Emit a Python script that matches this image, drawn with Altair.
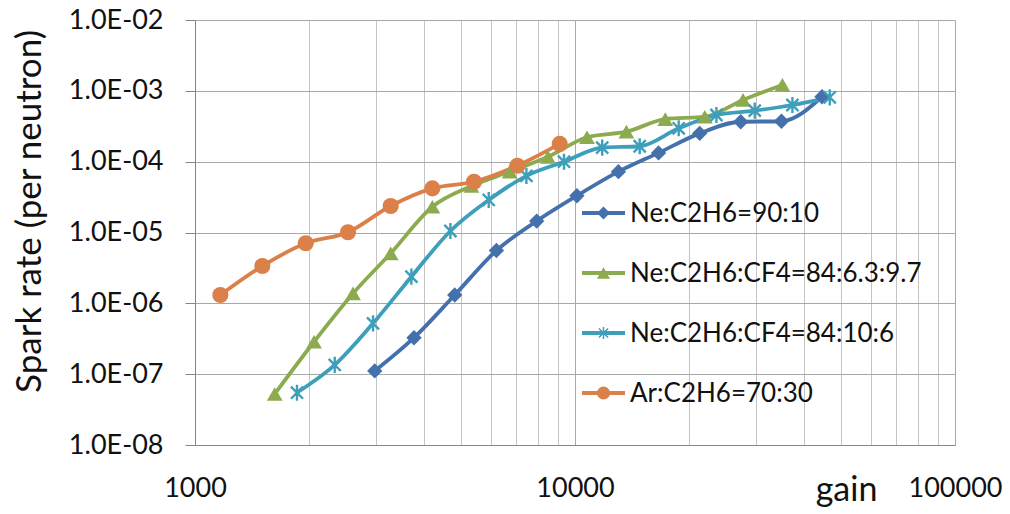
import altair as alt
import pandas as pd

# ---- data ----
series_names = ["Ne:C2H6=90:10", "Ne:C2H6:CF4=84:6.3:9.7", "Ne:C2H6:CF4=84:10:6", "Ar:C2H6=70:30"]
series_colors = ["#4470AC", "#8CAB4F", "#3E9FBA", "#DA8048"]

blue_gain = [2972, 3770, 4825, 6212, 7929, 10116, 13010, 16590, 21290, 27300, 34940, 44670]
blue_rate = [1.11e-7, 3.27e-7, 1.31e-6, 5.57e-6, 1.45e-5, 3.30e-5, 7.22e-5, 1.33e-4, 2.51e-4, 3.66e-4, 3.72e-4, 8.26e-4]

green_gain = [1621, 2057, 2605, 3273, 4214, 5339, 6733, 8490, 10755, 13655, 17280, 21950, 27680, 35140]
green_rate = [5.25e-8, 2.87e-7, 1.38e-6, 5.08e-6, 2.31e-5, 4.53e-5, 7.22e-5, 1.17e-4, 2.21e-4, 2.65e-4, 3.98e-4, 4.31e-4, 7.43e-4, 1.21e-3]

teal_gain = [1855, 2332, 2941, 3711, 4700, 5929, 7450, 9356, 11792, 14800, 18745, 23560, 29715, 37340, 46820]
teal_rate = [5.47e-8, 1.35e-7, 5.22e-7, 2.38e-6, 1.05e-5, 2.88e-5, 6.31e-5, 9.98e-5, 1.58e-4, 1.65e-4, 2.96e-4, 4.56e-4, 5.25e-4, 6.31e-4, 8.10e-4]

orange_gain = [1166, 1504, 1956, 2527, 3273, 4214, 5423, 7053, 9115]
orange_rate = [1.31e-6, 3.36e-6, 7.04e-6, 1.01e-5, 2.37e-5, 4.20e-5, 5.21e-5, 8.77e-5, 1.78e-4]

x_tick_values = [1000, 2000, 3000, 4000, 5000, 6000, 7000, 8000, 9000,
                 10000, 20000, 30000, 40000, 50000, 60000, 70000, 80000, 90000, 100000]
y_tick_values = [1e-8, 1e-7, 1e-6, 1e-5, 1e-4, 1e-3, 1e-2]

# ---- tables ----
rows = []
for name, g, r in zip(series_names,
                      [blue_gain, green_gain, teal_gain, orange_gain],
                      [blue_rate, green_rate, teal_rate, orange_rate]):
    for i, (gg, rr) in enumerate(zip(g, r)):
        rows.append({"series": name, "gain": gg, "rate": rr, "idx": i})
df = pd.DataFrame(rows)
legend_df = pd.DataFrame({"series": series_names, "k": list(range(len(series_names)))})

asterisk = "M0,-1V1M-0.75,-0.75L0.75,0.75M-0.75,0.75L0.75,-0.75"
marker_shapes = ["diamond", "triangle-up", asterisk, "circle"]
marker_filled = [True, True, False, True]
marker_sizes = [235, 250, 260, 260]

xscale = alt.Scale(type="log", domain=[1000, 100000], nice=False)
yscale = alt.Scale(type="log", domain=[1e-8, 1e-2], nice=False)

x_axis = alt.Axis(
    values=x_tick_values,
    labelExpr="(datum.value == 1000 || datum.value == 10000 || datum.value == 100000) ? format(datum.value, 'd') : ''",
    ticks=False, tickSize=0, labelPadding=30, labelFlush=False, labelOverlap=False,
    labelFontSize=27, labelColor="#111111",
    grid=True,
    gridColor={"condition": {"test": "datum.value == 1000 || datum.value == 10000 || datum.value == 100000", "value": "#A8A8A8"}, "value": "#C4C4C4"},
    gridWidth=1,
    domainColor="#868686", domainWidth=1,
    title="gain", titleFontSize=34, titleFontWeight="normal", titleColor="#111111",
    titleX=651, titleY=55, titleAlign="center", titleBaseline="alphabetic",
)
y_axis = alt.Axis(
    values=y_tick_values,
    labelExpr="'1.0E-' + (round(-log(datum.value)/LN10) < 10 ? '0' : '') + round(-log(datum.value)/LN10)",
    ticks=True, tickSize=10, tickColor="#868686", labelPadding=22, labelOverlap=False,
    labelFontSize=27, labelColor="#111111",
    grid=True, gridColor="#A8A8A8", gridWidth=1,
    domainColor="#868686", domainWidth=1,
    title="Spark rate (per neutron)", titleFontSize=35, titleFontWeight="normal", titleColor="#111111",
    titleX=-166, titleY=191, titleAlign="center", titleBaseline="middle", titleAngle=270,
)


def cscale():
    return alt.Scale(domain=series_names, range=series_colors)


base = alt.Chart(df)

lines = base.mark_line(strokeWidth=3.8, interpolate="monotone").encode(
    x=alt.X("gain:Q", scale=xscale, axis=x_axis),
    y=alt.Y("rate:Q", scale=yscale, axis=y_axis),
    color=alt.Color("series:N", scale=cscale(), legend=None),
    order="idx:Q",
)

point_layers = []
for name, shp, filled, sz in zip(series_names, marker_shapes, marker_filled, marker_sizes):
    point_layers.append(
        base.transform_filter(alt.datum.series == name).mark_point(
            shape=shp, filled=filled, size=sz,
            strokeWidth=2.4 if not filled else 1, opacity=1,
        ).encode(
            x=alt.X("gain:Q", scale=xscale),
            y=alt.Y("rate:Q", scale=yscale),
            color=alt.Color("series:N", scale=cscale(), legend=None),
        )
    )

# ---- legend (inside the plot, Excel style: line segment + marker + label) ----
leg = alt.Chart(legend_df).transform_calculate(ly="193 + 60 * datum.k")
leg_y = alt.Y("ly:Q", scale=None, axis=None)

leg_rules = leg.mark_rule(strokeWidth=3.8).encode(
    x=alt.value(387), x2=alt.value(430), y=leg_y,
    color=alt.Color("series:N", scale=cscale(), legend=None),
)
leg_markers = []
for name, shp, filled in zip(series_names, marker_shapes, marker_filled):
    leg_markers.append(
        leg.transform_filter(alt.datum.series == name).mark_point(
            shape=shp, filled=filled, size=170 if filled else 150,
            strokeWidth=1.5 if not filled else 1, opacity=1,
        ).encode(
            x=alt.value(408.5), y=leg_y,
            color=alt.Color("series:N", scale=cscale(), legend=None),
        )
    )
leg_text = leg.mark_text(align="left", baseline="middle", fontSize=26, color="#111111", dy=1).encode(
    x=alt.value(435), y=leg_y, text="series:N",
)

chart = alt.layer(lines, *point_layers, leg_rules, *leg_markers, leg_text).properties(
    width=760, height=425,
    padding={"left": 195, "top": 20, "right": 55, "bottom": 69},
    autosize="none",
    background="white",
).configure(font="Lato").configure_view(stroke=None)

chart.save("out.html", embed_options={"renderer": "svg", "actions": False})
